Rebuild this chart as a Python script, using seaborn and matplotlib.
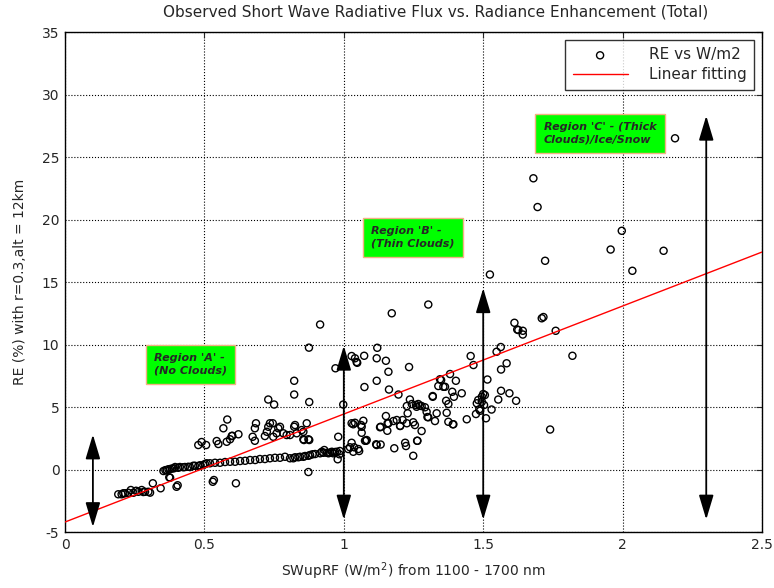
import numpy as np
import matplotlib
matplotlib.use('Agg')
import matplotlib.pyplot as plt
import seaborn as sns

# lower cluster (x < 0.42, y < 0)
low_x = [0.191, 0.203, 0.209, 0.215, 0.227, 0.236, 0.245, 0.255, 0.263, 0.275, 0.281, 0.287, 0.299, 0.305,
         0.315, 0.343, 0.374, 0.377, 0.40, 0.404]
low_y = [-1.98, -1.98, -1.9, -1.9, -1.86, -1.64, -1.86, -1.7, -1.78, -1.64, -1.8, -1.78, -1.78, -1.85,
         -1.1, -1.5, -0.62, -0.66, -1.38, -1.26]

# the flat band from 0.35 to 1.0
band_x = [0.353, 0.36, 0.365, 0.371, 0.377, 0.384, 0.391, 0.395, 0.406, 0.412, 0.424, 0.43, 0.442, 0.448,
          0.46, 0.466, 0.478, 0.484, 0.496, 0.502, 0.508, 0.52, 0.538, 0.556, 0.574, 0.592, 0.61, 0.628,
          0.646, 0.664, 0.682, 0.699, 0.717, 0.735, 0.753, 0.771, 0.789, 0.807, 0.819, 0.825, 0.837, 0.843,
          0.855, 0.861, 0.873, 0.879, 0.888, 0.897, 0.915, 0.921, 0.927, 0.939, 0.945, 0.957, 0.962, 0.975,
          0.978, 0.984, 0.986]
band_y = [-0.12, -0.05, -0.04, 0.02, 0.04, 0.08, 0.1, 0.2, 0.14, 0.2, 0.18, 0.2, 0.22, 0.2,
          0.3, 0.3, 0.28, 0.34, 0.36, 0.44, 0.5, 0.5, 0.54, 0.54, 0.6, 0.62, 0.62, 0.68,
          0.7, 0.76, 0.76, 0.84, 0.84, 0.9, 0.94, 0.94, 1.02, 0.9, 0.9, 0.98, 0.98, 1.02,
          1.02, 1.08, 1.1, 1.16, 1.22, 1.24, 1.3, 1.42, 1.34, 1.34, 1.3, 1.42, 1.3, 1.42,
          0.82, 1.22, 1.48]

# scattered points for 0.45 < x < 1.0
mid_x = [0.478, 0.49, 0.506, 0.53, 0.534, 0.544, 0.55, 0.568, 0.58, 0.582, 0.592, 0.598, 0.60, 0.613, 0.622,
         0.673, 0.681, 0.681, 0.685, 0.717, 0.724, 0.729, 0.729, 0.735, 0.745, 0.747, 0.75, 0.759, 0.765,
         0.771, 0.783, 0.795, 0.807, 0.822, 0.822, 0.822, 0.825, 0.831, 0.849, 0.855, 0.855, 0.857, 0.867,
         0.873, 0.873, 0.875, 0.876, 0.876, 0.915, 0.93, 0.95, 0.97, 0.968, 0.98, 0.998]
mid_y = [1.96, 2.2, 1.96, -0.98, -0.84, 2.28, 2.04, 3.3, 2.22, 4.0, 2.42, 2.68, 2.7, -1.1, 2.82,
         2.62, 2.3, 3.3, 3.7, 2.68, 3.02, 3.42, 5.6, 3.7, 3.7, 2.62, 5.2, 2.9, 3.3,
         3.42, 2.9, 2.76, 2.76, 3.42, 6.0, 7.1, 3.56, 2.9, 3.16, 2.42, 3.02, 2.36, 3.7,
         2.42, -0.2, 9.75, 2.36, 5.4, 11.6, 1.56, 1.35, 8.1, 1.4, 2.62, 5.2]

# region 1.0 - 1.5
hi_x = [1.016, 1.022, 1.028, 1.028, 1.028, 1.034, 1.034, 1.037, 1.04, 1.04, 1.046, 1.048, 1.052, 1.055,
        1.062, 1.064, 1.064, 1.07, 1.073, 1.074, 1.076, 1.08, 1.082, 1.116, 1.118, 1.118, 1.118, 1.12,
        1.13, 1.132, 1.132, 1.151, 1.151, 1.156, 1.157, 1.16, 1.16, 1.162, 1.172, 1.178, 1.181, 1.19,
        1.196, 1.202, 1.202, 1.211, 1.22, 1.223, 1.226, 1.226, 1.229, 1.234, 1.237, 1.244, 1.249, 1.249,
        1.255, 1.259, 1.261, 1.263, 1.264, 1.267, 1.273, 1.279, 1.279, 1.291, 1.297, 1.3, 1.303, 1.303,
        1.319, 1.319, 1.327, 1.333, 1.339, 1.345, 1.349, 1.357, 1.363, 1.367, 1.369, 1.375, 1.375, 1.381,
        1.389, 1.391, 1.393, 1.395, 1.402, 1.423, 1.441, 1.455, 1.465, 1.474, 1.477, 1.482, 1.486, 1.489,
        1.495, 1.495, 1.5, 1.503, 1.506, 1.51, 1.515, 1.524]
hi_y = [1.64, 1.78, 2.14, 9.08, 3.7, 3.62, 1.42, 1.78, 8.9, 3.74, 8.6, 8.54, 1.64, 1.48,
        3.56, 2.94, 3.42, 3.9, 9.1, 6.6, 2.3, 2.3, 2.36, 2.02, 7.1, 1.96, 8.9, 9.74,
        3.38, 3.42, 2.0, 8.7, 4.28, 3.1, 3.7, 7.82, 3.7, 6.4, 12.5, 3.88, 1.7, 3.96,
        6.0, 3.5, 3.48, 3.96, 2.14, 1.88, 5.08, 3.7, 4.5, 8.2, 5.6, 5.24, 3.78, 1.1,
        3.56, 5.16, 5.02, 2.3, 2.3, 5.24, 5.1, 5.08, 3.08, 4.98, 4.62, 4.2, 4.18, 13.2,
        5.82, 5.88, 3.88, 4.5, 6.68, 7.22, 7.16, 6.62, 6.62, 5.5, 4.54, 5.24, 3.82, 7.64,
        6.22, 3.62, 3.62, 5.82, 7.1, 6.1, 4.02, 9.08, 8.36, 4.44, 5.3, 5.56, 4.82, 4.7,
        5.42, 5.82, 6.04, 5.16, 5.96, 4.1, 7.2, 15.6]

# region > 1.5
top_x = [1.53, 1.548, 1.554, 1.563, 1.564, 1.564, 1.584, 1.594, 1.612, 1.618, 1.622, 1.626, 1.642, 1.642,
         1.68, 1.695, 1.71, 1.716, 1.722, 1.74, 1.76, 1.82, 1.957, 1.997, 2.035, 2.147, 2.188]
top_y = [4.8, 9.42, 5.6, 9.8, 8.0, 6.3, 8.5, 6.1, 11.74, 5.5, 11.2, 11.16, 11.1, 10.8,
         23.3, 21.0, 12.1, 12.2, 16.7, 3.2, 11.1, 9.1, 17.6, 19.1, 15.9, 17.5, 26.5]

# linear fit
fit_x = [0.0, 2.5]
fit_y = [-4.2, 17.4]

# double headed arrows: x, y bottom, y top
arrow_x = [0.1, 1.0, 1.5, 2.3]
arrow_lo = [-4.6, -4.0, -4.0, -4.0]
arrow_hi = [2.8, 9.9, 14.5, 28.3]

region_labels = ["Region 'A' -\n(No Clouds)", "Region 'B' -\n(Thin Clouds)",
                 "Region 'C' - (Thick\nClouds)/Ice/Snow"]
region_pos = [(0.45, 8.4), (1.247, 18.55), (1.919, 26.9)]

xs = low_x + band_x + mid_x + hi_x + top_x
ys = low_y + band_y + mid_y + hi_y + top_y

sns.set_style('white')
plt.rcParams['font.family'] = ['DejaVu Sans']
plt.rcParams['axes.unicode_minus'] = False

fig = plt.figure(figsize=(7.74, 5.88), dpi=100)
ax = fig.add_axes([0.084, 0.0952, 0.9005, 0.8503])

sns.scatterplot(x=xs, y=ys, ax=ax, marker='o', s=26, facecolor='none',
                edgecolor='black', linewidth=1.0, label='RE vs W/m2', zorder=3)
sns.lineplot(x=fit_x, y=fit_y, ax=ax, color='red', linewidth=1.0, label='Linear fitting', zorder=4)

for xa, lo, hi in zip(arrow_x, arrow_lo, arrow_hi):
    ax.annotate('', xy=(xa, hi), xytext=(xa, lo),
                arrowprops=dict(arrowstyle='<|-|>,head_length=1.5,head_width=0.45',
                                color='black', lw=1.3, shrinkA=0, shrinkB=0), zorder=5)

for lab, (lx, ly) in zip(region_labels, region_pos):
    ax.text(lx, ly, lab, ha='center', va='center', multialignment='left', fontsize=8,
            fontweight='bold', fontstyle='italic', zorder=6, linespacing=1.3,
            bbox=dict(boxstyle='square,pad=0.75', facecolor='#00ff00', edgecolor='#f4b183', lw=1))

ax.set_xlim(0, 2.5)
ax.set_ylim(-5, 35)
ax.set_xticks(np.arange(0, 2.51, 0.5))
ax.set_xticklabels(['0', '0.5', '1', '1.5', '2', '2.5'])
ax.set_yticks(np.arange(-5, 36, 5))
ax.grid(True, color='black', linestyle=':', linewidth=0.8)
ax.tick_params(direction='in', top=True, right=True, length=4, labelsize=10, width=0.8, pad=4)
for sp in ax.spines.values():
    sp.set_color('black')
    sp.set_linewidth(1.0)

ax.set_title('Observed Short Wave Radiative Flux vs. Radiance Enhancement (Total)', fontsize=11,
             pad=11, x=0.532)
ax.set_xlabel('SWupRF (W/m$^2$) from 1100 - 1700 nm', fontsize=10, labelpad=6)
ax.set_ylabel('RE (%) with r=0.3,alt = 12km', fontsize=10, labelpad=11)

leg = ax.legend(loc='upper right', fontsize=11, frameon=True, fancybox=False,
                edgecolor='black', borderpad=0.5, handlelength=3.6, handletextpad=1.4,
                borderaxespad=0.5, labelspacing=0.3)
leg.get_frame().set_linewidth(1.0)

fig.savefig('out.png', dpi=100)
